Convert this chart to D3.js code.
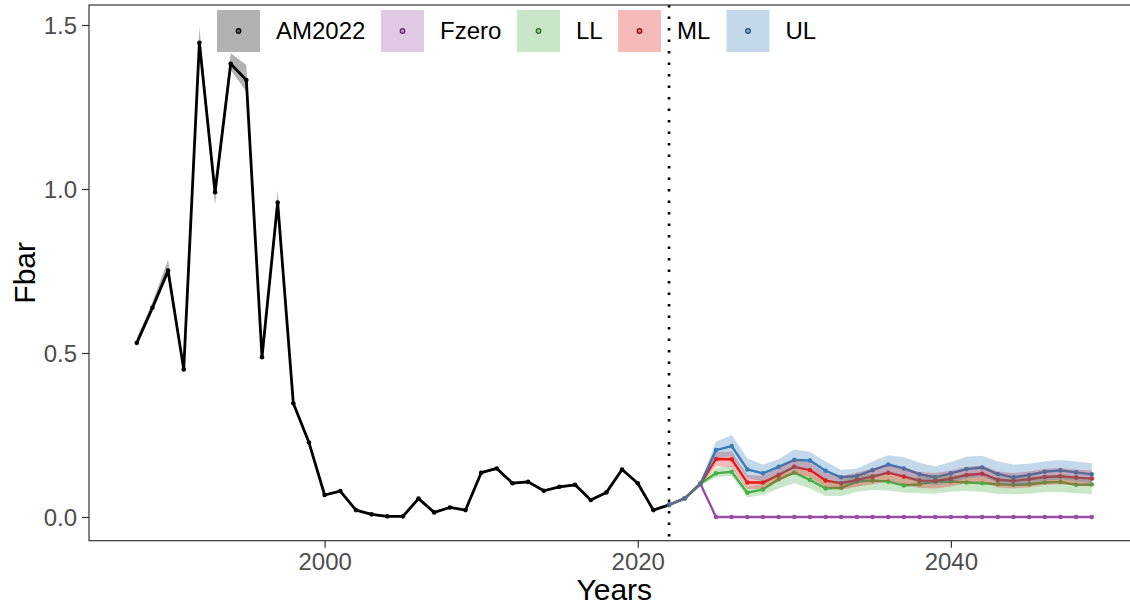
<!DOCTYPE html>
<html>
<head>
<meta charset="utf-8">
<script src="https://cdn.jsdelivr.net/npm/d3@7"></script>
<style>
  body { margin: 0; background: #fff; overflow: hidden; }
  svg { display: block; font-family: "Liberation Sans", Arial, sans-serif; }
</style>
</head>
<body>
<svg width="1130" height="606"></svg>
<script>
// historical assessment (AM2022)
var histYears = d3.range(1988, 2023);
var histFbar = [0.531, 0.638, 0.751, 0.450, 1.446, 0.990, 1.382, 1.332, 0.487, 0.959,
  0.347, 0.227, 0.067, 0.079, 0.021, 0.008, 0.002, 0.002, 0.056, 0.014,
  0.029, 0.021, 0.135, 0.148, 0.103, 0.107, 0.080, 0.092, 0.098, 0.052,
  0.075, 0.145, 0.103, 0.021, 0.037];
var histUpper = [0.545, 0.655, 0.784, 0.456, 1.494, 0.998, 1.415, 1.378, 0.494, 0.997,
  0.356, 0.233, 0.071, 0.083, 0.024, 0.010, 0.004, 0.004, 0.060, 0.017,
  0.032, 0.024, 0.139, 0.152, 0.107, 0.111, 0.084, 0.096, 0.102, 0.056,
  0.079, 0.149, 0.107, 0.024, 0.040];
var histLower = [0.520, 0.625, 0.738, 0.444, 1.430, 0.951, 1.363, 1.297, 0.478, 0.950,
  0.340, 0.222, 0.063, 0.075, 0.018, 0.006, 0.000, 0.000, 0.052, 0.011,
  0.026, 0.018, 0.131, 0.144, 0.099, 0.103, 0.076, 0.088, 0.094, 0.048,
  0.071, 0.141, 0.099, 0.018, 0.034];

// projections
var projYears = d3.range(2022, 2050);
var fzero = [0.037, 0.057, 0.101, 0, 0, 0, 0, 0, 0, 0, 0, 0, 0, 0,
  0, 0, 0, 0, 0, 0, 0, 0, 0, 0, 0, 0, 0, 0];
var ll = [0.037, 0.057, 0.101, 0.133, 0.138, 0.074, 0.084, 0.115, 0.135, 0.113,
  0.087, 0.089, 0.108, 0.111, 0.108, 0.096, 0.100, 0.108, 0.108, 0.105,
  0.103, 0.100, 0.098, 0.100, 0.105, 0.107, 0.098, 0.099];
var llUpper = [0.040, 0.061, 0.106, 0.150, 0.156, 0.090, 0.102, 0.136, 0.156, 0.134,
  0.108, 0.110, 0.128, 0.132, 0.130, 0.118, 0.122, 0.128, 0.128, 0.126,
  0.124, 0.121, 0.119, 0.121, 0.126, 0.128, 0.120, 0.121];
var llLower = [0.034, 0.053, 0.096, 0.121, 0.125, 0.060, 0.067, 0.087, 0.103, 0.087,
  0.064, 0.064, 0.077, 0.082, 0.081, 0.075, 0.072, 0.071, 0.078, 0.079,
  0.077, 0.071, 0.069, 0.071, 0.076, 0.076, 0.072, 0.070];
var ml = [0.037, 0.057, 0.101, 0.177, 0.176, 0.105, 0.105, 0.128, 0.153, 0.143,
  0.111, 0.103, 0.113, 0.123, 0.135, 0.123, 0.111, 0.110, 0.117, 0.128,
  0.132, 0.113, 0.110, 0.115, 0.122, 0.124, 0.120, 0.117];
var mlUpper = [0.040, 0.061, 0.106, 0.198, 0.200, 0.128, 0.126, 0.150, 0.176, 0.166,
  0.134, 0.124, 0.136, 0.148, 0.160, 0.150, 0.137, 0.134, 0.142, 0.153,
  0.157, 0.139, 0.134, 0.139, 0.147, 0.149, 0.145, 0.142];
var mlLower = [0.034, 0.053, 0.096, 0.155, 0.152, 0.085, 0.086, 0.108, 0.132, 0.122,
  0.090, 0.083, 0.092, 0.100, 0.110, 0.098, 0.088, 0.087, 0.093, 0.104,
  0.107, 0.090, 0.087, 0.091, 0.098, 0.100, 0.096, 0.094];
var ul = [0.037, 0.057, 0.101, 0.204, 0.216, 0.145, 0.133, 0.153, 0.174, 0.172,
  0.141, 0.121, 0.125, 0.143, 0.160, 0.148, 0.130, 0.121, 0.133, 0.146,
  0.151, 0.131, 0.121, 0.128, 0.138, 0.142, 0.136, 0.130];
var ulUpper = [0.040, 0.061, 0.106, 0.230, 0.250, 0.179, 0.159, 0.176, 0.206, 0.199,
  0.169, 0.143, 0.148, 0.169, 0.188, 0.182, 0.165, 0.154, 0.168, 0.184,
  0.187, 0.169, 0.160, 0.162, 0.170, 0.174, 0.169, 0.164];
var ulLower = [0.034, 0.053, 0.096, 0.180, 0.185, 0.118, 0.108, 0.128, 0.146, 0.146,
  0.116, 0.098, 0.102, 0.118, 0.133, 0.122, 0.105, 0.097, 0.106, 0.118,
  0.123, 0.105, 0.096, 0.102, 0.111, 0.114, 0.109, 0.104];

var seriesNames = ['AM2022', 'Fzero', 'LL', 'ML', 'UL'];
var seriesColors = ['#000000', '#984EA3', '#4DAF4A', '#E41A1C', '#377EB8'];
var xTicks = [2000, 2020, 2040];
var yTicks = [0, 0.5, 1.0, 1.5];
var refYear = 2022;

var series = [
  { name: 'AM2022', years: histYears, mid: histFbar, lo: histLower, hi: histUpper },
  { name: 'Fzero', years: projYears, mid: fzero, lo: fzero, hi: fzero },
  { name: 'LL', years: projYears, mid: ll, lo: llLower, hi: llUpper },
  { name: 'ML', years: projYears, mid: ml, lo: mlLower, hi: mlUpper },
  { name: 'UL', years: projYears, mid: ul, lo: ulLower, hi: ulUpper }
];

var panel = { left: 89, right: 1139.5, top: 5, bottom: 540.7 };
var color = d3.scaleOrdinal().domain(seriesNames).range(seriesColors);

var xScale = d3.scaleLinear().domain([1984.95, 2052.05]).range([panel.left, panel.right]);
var yScale = d3.scaleLinear().domain([-0.0723, 1.561]).range([panel.bottom, panel.top]);

var svg = d3.select('svg');

// lines and points --------------------------------------------------------
var line = d3.line().x(d => xScale(d.year)).y(d => yScale(d.v));
var ribbon = d3.area().x(d => xScale(d.year)).y0(d => yScale(d.lo)).y1(d => yScale(d.hi));

series.forEach(s => {
  s.pts = s.years.map((yr, i) => ({ year: yr, v: s.mid[i], lo: s.lo[i], hi: s.hi[i] }));
});

series.forEach(s => {
  svg.append('path').datum(s.pts)
    .attr('d', line)
    .attr('fill', 'none')
    .attr('stroke', color(s.name))
    .attr('stroke-width', s.name == 'AM2022' ? 2.8 : 2.4)
    .attr('stroke-linejoin', 'round');
  svg.append('g').selectAll('circle').data(s.pts).enter().append('circle')
    .attr('cx', d => xScale(d.year))
    .attr('cy', d => yScale(d.v))
    .attr('r', 2.3)
    .attr('fill', color(s.name));
});

// ribbons on top
series.forEach(s => {
  svg.append('path').datum(s.pts)
    .attr('d', ribbon)
    .attr('fill', color(s.name))
    .attr('fill-opacity', 0.3);
});

// reference year
svg.append('line')
  .attr('x1', xScale(refYear)).attr('x2', xScale(refYear))
  .attr('y1', panel.top).attr('y2', panel.bottom)
  .attr('stroke', '#000')
  .attr('stroke-width', 2.6)
  .attr('stroke-dasharray', '2.6 8.9');

// panel border
svg.append('rect')
  .attr('x', panel.left).attr('y', panel.top)
  .attr('width', panel.right - panel.left).attr('height', panel.bottom - panel.top)
  .attr('fill', 'none').attr('stroke', '#333').attr('stroke-width', 1.2);

// axes --------------------------------------------------------------------
var xAxis = d3.axisBottom(xScale).tickValues(xTicks).tickFormat(d3.format('d')).tickSizeInner(7).tickSizeOuter(0).tickPadding(5);
var yAxis = d3.axisLeft(yScale).tickValues(yTicks).tickFormat(d3.format('.1f')).tickSizeInner(7).tickSizeOuter(0).tickPadding(5);

var gx = svg.append('g').attr('transform', 'translate(0,' + panel.bottom + ')').call(xAxis);
var gy = svg.append('g').attr('transform', 'translate(' + panel.left + ',0)').call(yAxis);
[gx, gy].forEach(g => {
  g.select('.domain').remove();
  g.selectAll('.tick line').attr('stroke', '#333').attr('stroke-width', 1.2);
  g.selectAll('.tick text').attr('fill', '#4d4d4d').style('font-size', '24px')
    .style('font-family', '"Liberation Sans", Arial, sans-serif');
});
gy.selectAll('.tick text').attr('dy', '0.35em');

svg.append('text')
  .attr('x', (panel.left + panel.right) / 2).attr('y', 600)
  .attr('text-anchor', 'middle').style('font-size', '30px').text('Years');
svg.append('text')
  .attr('transform', 'translate(35,' + (panel.top + panel.bottom) / 2 + ') rotate(-90)')
  .attr('text-anchor', 'middle').style('font-size', '30px').text('Fbar');

// legend ------------------------------------------------------------------
var legendX = [217, 381, 517, 618, 726.5];
var legend = svg.append('g').selectAll('g').data(seriesNames).enter().append('g')
  .attr('transform', (d, i) => 'translate(' + legendX[i] + ',10)');
legend.append('rect')
  .attr('width', 43).attr('height', 42)
  .attr('fill', d => color(d)).attr('fill-opacity', 0.3);
legend.append('circle')
  .attr('cx', 21.5).attr('cy', 21).attr('r', 2.3)
  .attr('fill', d => color(d)).attr('fill-opacity', 0.5)
  .attr('stroke', d => d3.color(color(d)).darker(1.5)).attr('stroke-width', 1.2);
legend.append('text')
  .attr('x', 59).attr('y', 21).attr('dy', '0.35em')
  .style('font-size', '24px').text(d => d);
</script>
</body>
</html>
